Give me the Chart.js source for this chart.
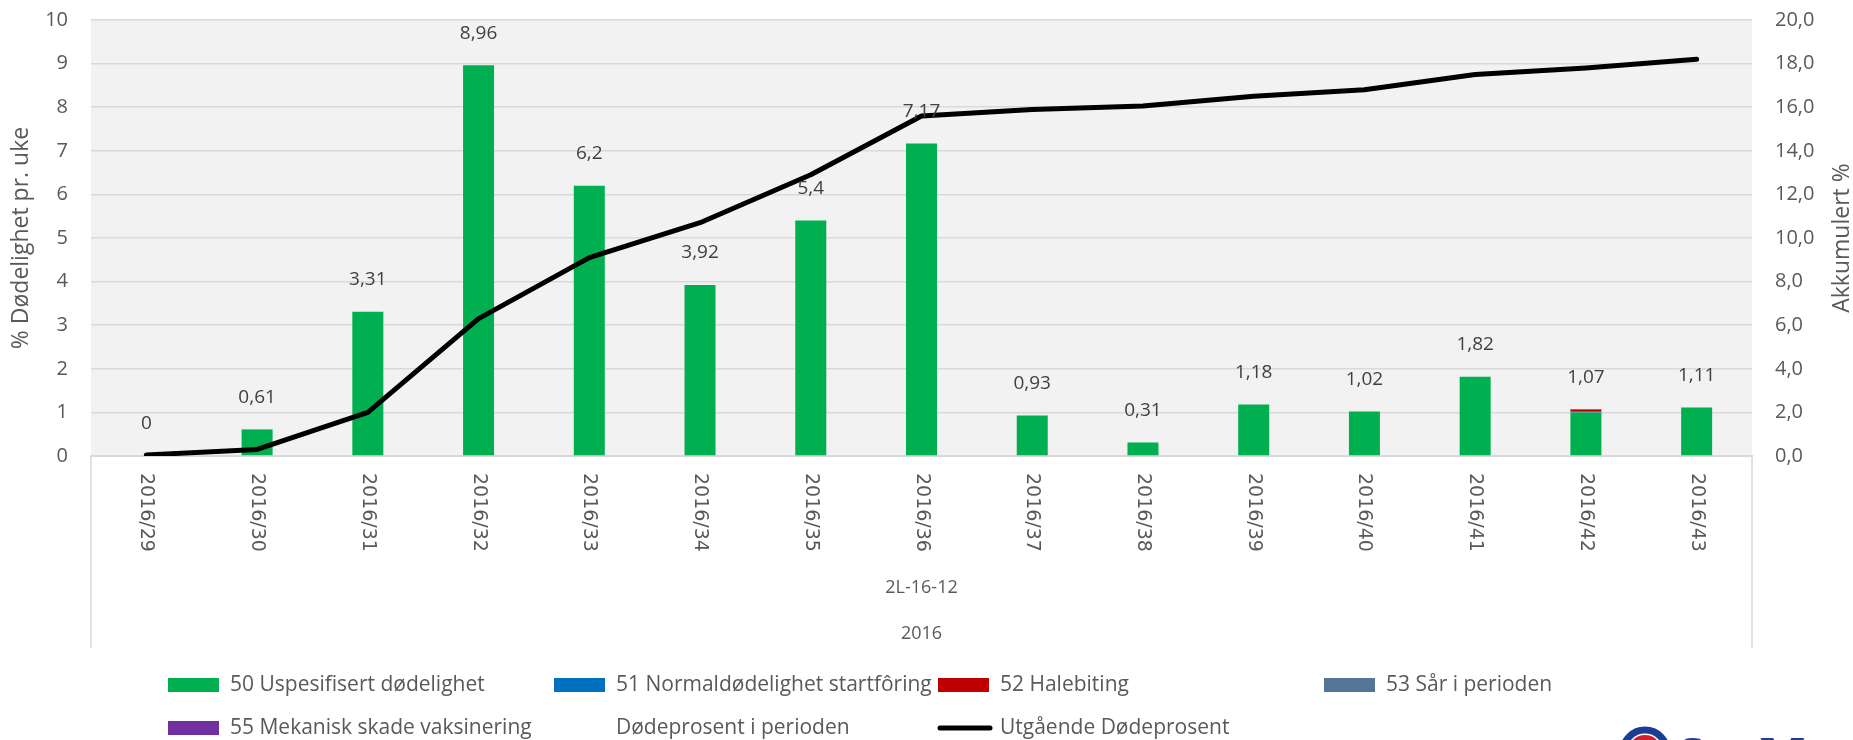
<!DOCTYPE html>
<html>
<head>
<meta charset="utf-8">
<script src="https://cdn.jsdelivr.net/npm/chart.js@4.4.1/dist/chart.umd.min.js"></script>
<style>
    body { margin: 0; background: #ffffff; }
    #wrap { position: relative; width: 1853px; height: 740px; }
</style>
</head>
<body>
<div id="wrap"><canvas id="mortalityChart"></canvas></div>
<script>
// weekly data
var weekLabels = ["2016/29", "2016/30", "2016/31", "2016/32", "2016/33", "2016/34", "2016/35", "2016/36",
    "2016/37", "2016/38", "2016/39", "2016/40", "2016/41", "2016/42", "2016/43"];
var uspesifisert = [0, 0.61, 3.31, 8.96, 6.2, 3.92, 5.4, 7.17, 0.93, 0.31, 1.18, 1.02, 1.82, 1.0, 1.11];
var normalStartforing = [0, 0, 0, 0, 0, 0, 0, 0, 0, 0, 0, 0, 0, 0.03, 0];
var halebiting = [0, 0, 0, 0, 0, 0, 0, 0, 0, 0, 0, 0, 0, 0.04, 0];
var sarPerioden = [0, 0, 0, 0, 0, 0, 0, 0, 0, 0, 0, 0, 0, 0, 0];
var mekaniskSkade = [0, 0, 0, 0, 0, 0, 0, 0, 0, 0, 0, 0, 0, 0, 0];
var dodeprosentPerioden = [0, 0.61, 3.31, 8.96, 6.2, 3.92, 5.4, 7.17, 0.93, 0.31, 1.18, 1.02, 1.82, 1.07, 1.11];
var utgaendeDodeprosent = [0.05, 0.3, 2.0, 6.3, 9.1, 10.7, 12.9, 15.6, 15.9, 16.05, 16.5, 16.8, 17.5, 17.8, 18.2];
var groupLabels = ["2L-16-12", "2016"];

var textGrey = "#595959";
var fontFamily = "'Open Sans', 'Noto Sans', sans-serif";

function comma(v) {
    return String(v).replace(".", ",");
}

/* grey plot background */
var plotBackground = {
    id: "plotBackground",
    beforeDraw: function(chart) {
        var a = chart.chartArea;
        var ctx = chart.ctx;
        ctx.save();
        ctx.fillStyle = "#f2f2f2";
        ctx.fillRect(a.left, a.top, a.right - a.left, a.bottom - a.top);
        ctx.restore();
    }
};

/* category labels, group labels, value labels, right title, legend, logo */
var extras = {
    id: "extras",
    afterDraw: function(chart) {
        var ctx = chart.ctx;
        var a = chart.chartArea;
        var xScale = chart.scales.x;
        var yScale = chart.scales.y;
        ctx.save();

        // box below the plot
        ctx.strokeStyle = "#d9d9d9";
        ctx.lineWidth = 1.5;
        ctx.beginPath();
        ctx.moveTo(a.left, a.bottom);
        ctx.lineTo(a.left, 648);
        ctx.moveTo(a.right, a.bottom);
        ctx.lineTo(a.right, 648);
        ctx.stroke();

        // rotated week labels
        ctx.fillStyle = textGrey;
        ctx.font = "19px 'DejaVu Sans', sans-serif";
        ctx.textAlign = "left";
        ctx.textBaseline = "middle";
        for (var i = 0; i < weekLabels.length; i++) {
            var x = xScale.getPixelForValue(i);
            ctx.save();
            ctx.translate(x, 473);
            ctx.rotate(Math.PI / 2);
            ctx.fillText(weekLabels[i], 0, 0);
            ctx.restore();
        }

        // group labels
        ctx.font = "18px " + fontFamily;
        ctx.textAlign = "center";
        var cx = (a.left + a.right) / 2;
        ctx.fillText(groupLabels[0], cx, 588);
        ctx.fillText(groupLabels[1], cx, 634);

        // value labels for "Dødeprosent i perioden"
        ctx.fillStyle = "#404040";
        ctx.font = "19px " + fontFamily;
        for (var j = 0; j < dodeprosentPerioden.length; j++) {
            var px = xScale.getPixelForValue(j);
            var py = yScale.getPixelForValue(dodeprosentPerioden[j]);
            ctx.fillText(comma(dodeprosentPerioden[j]), px, py - 32);
        }

        // right axis title, reading bottom to top
        ctx.fillStyle = textGrey;
        ctx.font = "23px " + fontFamily;
        ctx.save();
        ctx.translate(1842, (a.top + a.bottom) / 2);
        ctx.rotate(-Math.PI / 2);
        ctx.fillText("Akkumulert %", 0, 0);
        ctx.restore();

        // legend
        var cols = [168, 554, 938, 1324];
        var rows = [685, 728];
        ctx.font = "21px " + fontFamily;
        ctx.textAlign = "left";
        chart.data.datasets.forEach(function(ds, k) {
            var bx = cols[k % 4];
            var by = rows[Math.floor(k / 4)];
            if (ds.type === "line" && ds.showLine !== false) {
                ctx.strokeStyle = ds.borderColor;
                ctx.lineWidth = 5;
                ctx.lineCap = "round";
                ctx.beginPath();
                ctx.moveTo(bx + 2, by);
                ctx.lineTo(bx + 52, by);
                ctx.stroke();
            } else if (ds.type !== "line") {
                ctx.fillStyle = ds.backgroundColor;
                ctx.fillRect(bx, by - 7, 51, 14);
            }
            ctx.fillStyle = textGrey;
            ctx.fillText(ds.label, bx + 62, by);
        });

        // logo, cut by the bottom edge
        ctx.beginPath();
        ctx.arc(1645, 752, 22, Math.PI, 2 * Math.PI);
        ctx.lineWidth = 7;
        ctx.strokeStyle = "#1c3c96";
        ctx.stroke();
        ctx.beginPath();
        ctx.arc(1645, 752, 14, 1.25 * Math.PI, 1.9 * Math.PI);
        ctx.lineWidth = 6;
        ctx.strokeStyle = "#d0202a";
        ctx.stroke();
        ctx.fillStyle = "#1c3c96";
        ctx.textBaseline = "alphabetic";
        ctx.font = "bold 48px 'Liberation Serif', serif";
        ctx.fillText("S", 1678, 770);
        ctx.font = "bold 36px 'Liberation Serif', serif";
        ctx.fillText("AL", 1706, 770);
        ctx.font = "bold 48px 'Liberation Serif', serif";
        ctx.fillText("M", 1760, 770);
        ctx.font = "bold 36px 'Liberation Serif', serif";
        ctx.fillText("AR", 1804, 770);
        ctx.restore();
    }
};

var ctx = document.getElementById("mortalityChart");
var mortalityChart = new Chart(ctx, {
    type: "bar",
    data: {
        labels: weekLabels,
        datasets: [{
            label: "50 Uspesifisert dødelighet",
            data: uspesifisert,
            backgroundColor: "#00b050",
            stack: "weekly",
            barPercentage: 0.28,
            categoryPercentage: 1.0,
            order: 2
        }, {
            label: "51 Normaldødelighet startfôring",
            data: normalStartforing,
            backgroundColor: "#0070c0",
            stack: "weekly",
            barPercentage: 0.28,
            categoryPercentage: 1.0,
            order: 2
        }, {
            label: "52 Halebiting",
            data: halebiting,
            backgroundColor: "#c00000",
            stack: "weekly",
            barPercentage: 0.28,
            categoryPercentage: 1.0,
            order: 2
        }, {
            label: "53 Sår i perioden",
            data: sarPerioden,
            backgroundColor: "#537598",
            stack: "weekly",
            barPercentage: 0.28,
            categoryPercentage: 1.0,
            order: 2
        }, {
            label: "55 Mekanisk skade vaksinering",
            data: mekaniskSkade,
            backgroundColor: "#7030a0",
            stack: "weekly",
            barPercentage: 0.28,
            categoryPercentage: 1.0,
            order: 2
        }, {
            type: "line",
            label: "Dødeprosent i perioden",
            data: dodeprosentPerioden,
            showLine: false,
            pointRadius: 0,
            borderColor: "rgba(0,0,0,0)",
            stack: "labels",
            yAxisID: "y",
            order: 1
        }, {
            type: "line",
            label: "Utgående Dødeprosent",
            data: utgaendeDodeprosent,
            borderColor: "#000000",
            backgroundColor: "#000000",
            borderWidth: 5,
            borderCapStyle: "round",
            borderJoinStyle: "round",
            pointRadius: 0,
            tension: 0,
            fill: false,
            yAxisID: "y2",
            order: 0
        }]
    },
    options: {
        responsive: true,
        maintainAspectRatio: false,
        animation: false,
        layout: { padding: { top: 20, left: 0, right: 0, bottom: 0 } },
        plugins: {
            legend: { display: false },
            tooltip: { enabled: false }
        },
        scales: {
            x: {
                stacked: true,
                grid: { display: false },
                border: { display: true, color: "#d9d9d9", width: 2 },
                ticks: { display: false },
                afterFit: function(scale) { scale.height = 284; }
            },
            y: {
                stacked: true,
                position: "left",
                min: 0,
                max: 10,
                ticks: {
                    stepSize: 1,
                    padding: 0,
                    color: textGrey,
                    font: { family: fontFamily, size: 20 }
                },
                grid: {
                    color: "#d9d9d9",
                    lineWidth: 1.5,
                    drawTicks: true,
                    tickLength: 23,
                    tickColor: "rgba(0,0,0,0)"
                },
                border: { display: false },
                title: {
                    display: true,
                    text: "% Dødelighet pr. uke",
                    color: textGrey,
                    font: { family: fontFamily, size: 23, lineHeight: 1.0 },
                    padding: { top: 10, bottom: 0 }
                },
                afterFit: function(scale) { scale.width = 91; }
            },
            y2: {
                position: "right",
                min: 0,
                max: 20,
                ticks: {
                    stepSize: 2,
                    padding: 0,
                    color: textGrey,
                    font: { family: fontFamily, size: 20 },
                    callback: function(value) { return value.toFixed(1).replace(".", ","); }
                },
                grid: {
                    display: false,
                    drawTicks: true,
                    tickLength: 23,
                    tickColor: "rgba(0,0,0,0)"
                },
                border: { display: false },
                afterFit: function(scale) { scale.width = 101; }
            }
        }
    },
    plugins: [plotBackground, extras]
});
</script>
</body>
</html>
